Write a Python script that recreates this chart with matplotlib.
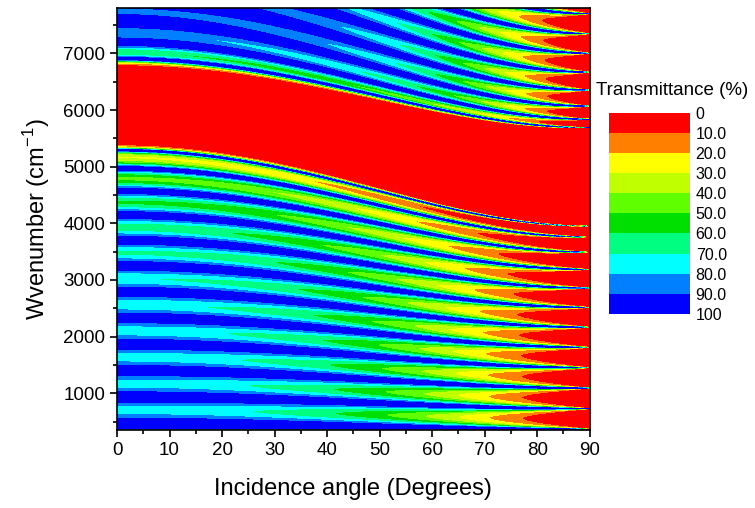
import numpy as np
import matplotlib.pyplot as plt

plt.rcParams['font.family'] = ['Liberation Sans', 'DejaVu Sans']
plt.rcParams['mathtext.fontset'] = 'custom'
plt.rcParams['mathtext.rm'] = 'Liberation Sans'

# fL (H L)^(N-1) H fL stack in air, TE; phase taken along the refracted path (n d / cos)
n_high, n_low = 2.056, 1.45
d_high_um, d_low_um = 0.1992, 0.2824
outer_fraction = 0.28
n_periods = 13

angles = np.linspace(0, 90, 451)
wavenumbers = np.linspace(350, 7800, 1600)

levels = [0, 10, 20, 30, 40, 50, 60, 70, 80, 90, 100]
level_labels = ['0', '10.0', '20.0', '30.0', '40.0', '50.0', '60.0', '70.0', '80.0', '90.0', '100']
level_colors = ['#ff0000', '#ff8000', '#ffff00', '#c0ff00', '#60ff00', '#00e000',
                '#00ff80', '#00ffff', '#0080ff', '#0000ff']


def transmittance(angles, wavenumbers):
    outer = (n_low, d_low_um * outer_fraction)
    stack = [outer] + [(n_high, d_high_um), (n_low, d_low_um)] * (n_periods - 1) + [(n_high, d_high_um), outer]
    th, nu = np.meshgrid(np.radians(angles), wavenumbers)
    s2 = np.sin(th) ** 2
    y0 = np.maximum(np.cos(th), 1e-6)
    m11 = np.ones(th.shape, dtype=complex)
    m12 = np.zeros(th.shape, dtype=complex)
    m21 = np.zeros(th.shape, dtype=complex)
    m22 = np.ones(th.shape, dtype=complex)
    for n, d in stack:
        cos_j = np.sqrt(1 - s2 / n ** 2)
        y = n * cos_j
        delta = 2 * np.pi * nu * d * 1e-4 * n / cos_j
        c, s = np.cos(delta), np.sin(delta)
        a11, a12, a21, a22 = c, 1j * s / y, 1j * y * s, c
        m11, m12, m21, m22 = (m11 * a11 + m12 * a21, m11 * a12 + m12 * a22,
                              m21 * a11 + m22 * a21, m21 * a12 + m22 * a22)
    t = 2 * y0 / (y0 * m11 + y0 * y0 * m12 + m21 + y0 * m22)
    return np.clip(100 * np.abs(t) ** 2, 0, 99.999)


T = transmittance(angles, wavenumbers)

fig = plt.figure(figsize=(7.55, 5.08), dpi=100)
ax = fig.add_axes([0.155, 0.1535, 0.626, 0.8305])
cs = ax.contourf(angles, wavenumbers, T, levels=levels, colors=level_colors)

ax.set_xlim(0, 90)
ax.set_ylim(350, 7800)
ax.set_xticks(np.arange(0, 91, 10))
ax.set_xticks(np.arange(0, 91, 5), minor=True)
ax.set_yticks(np.arange(1000, 7001, 1000))
ax.set_yticks(np.arange(500, 7801, 500), minor=True)
ax.tick_params(which='both', direction='out', labelsize=13.5, width=1.2)
ax.tick_params(which='major', length=5)
ax.tick_params(which='minor', length=3)
for sp in ax.spines.values():
    sp.set_linewidth(1.2)
ax.set_xlabel('Incidence angle (Degrees)', fontsize=17, labelpad=14)
ax.set_ylabel('Wvenumber (cm$^{-1}$)', fontsize=17, labelpad=8)

cax = fig.add_axes([0.807, 0.382, 0.107, 0.396])
cb = fig.colorbar(cs, cax=cax)
cax.invert_yaxis()
cb.set_ticks(levels)
cb.set_ticklabels(level_labels)
cb.outline.set_visible(False)
cax.tick_params(length=0, labelsize=11.5, pad=4)
fig.text(0.890, 0.821, 'Transmittance (%)', fontsize=13.5, ha='center', va='center')

fig.savefig('out.png', dpi=100)
